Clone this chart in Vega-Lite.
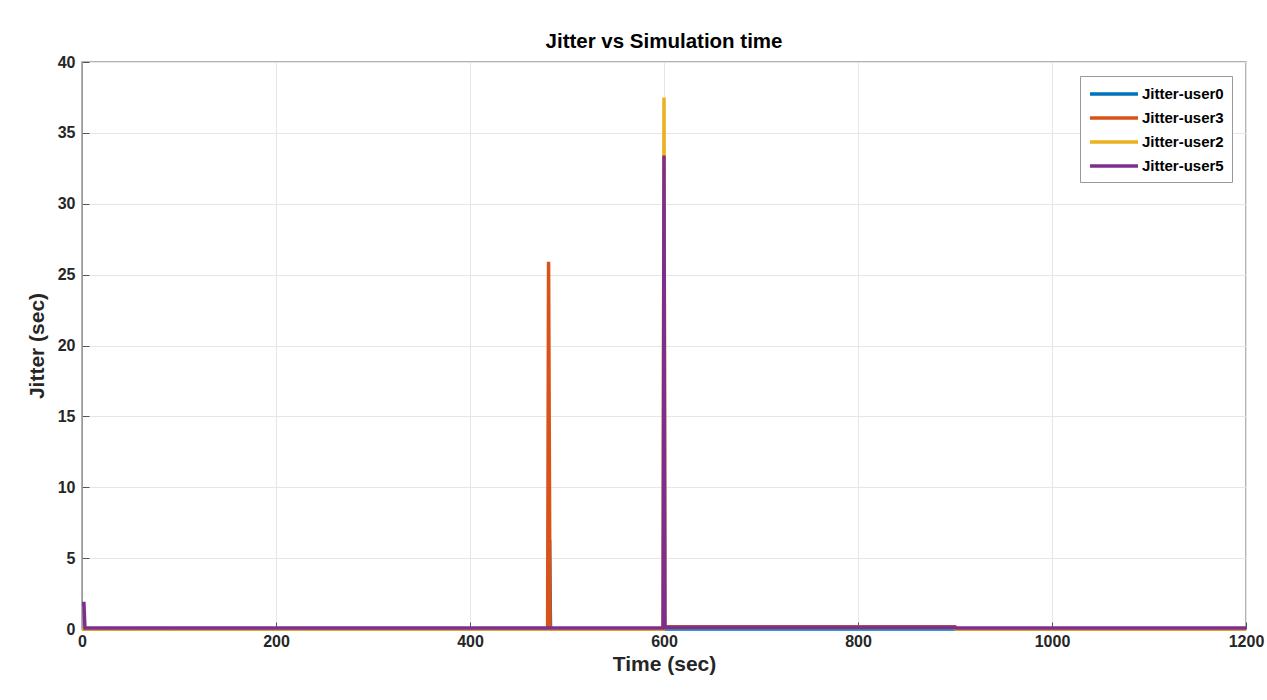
{
  "$schema": "https://vega.github.io/schema/vega-lite/v6.json",
  "autosize": {"type": "none"},
  "width": 1164,
  "height": 567,
  "padding": {"left": 82, "top": 62, "right": 21, "bottom": 71},
  "background": "white",
  "title": {
    "text": "Jitter vs Simulation time",
    "font": "Liberation Sans",
    "fontSize": 20.5,
    "fontWeight": "bold",
    "color": "#000000",
    "offset": 2,
    "anchor": "middle"
  },
  "data": {
    "values": [
      {"time": 0, "jitter": 0, "series": "Jitter-user0"},
      {"time": 481, "jitter": 0, "series": "Jitter-user0"},
      {"time": 482, "jitter": 6.3, "series": "Jitter-user0"},
      {"time": 483, "jitter": 0, "series": "Jitter-user0"},
      {"time": 1200, "jitter": 0, "series": "Jitter-user0"},
      {"time": 0, "jitter": 0, "series": "Jitter-user3"},
      {"time": 300, "jitter": 0.02, "series": "Jitter-user3"},
      {"time": 480, "jitter": 0.02, "series": "Jitter-user3"},
      {"time": 481, "jitter": 25.9, "series": "Jitter-user3"},
      {"time": 482.5, "jitter": 0, "series": "Jitter-user3"},
      {"time": 600, "jitter": 0, "series": "Jitter-user3"},
      {"time": 601, "jitter": 0.15, "series": "Jitter-user3"},
      {"time": 900, "jitter": 0.15, "series": "Jitter-user3"},
      {"time": 901, "jitter": 0, "series": "Jitter-user3"},
      {"time": 1200, "jitter": 0, "series": "Jitter-user3"},
      {"time": 0, "jitter": 0, "series": "Jitter-user2"},
      {"time": 599, "jitter": 0, "series": "Jitter-user2"},
      {"time": 600, "jitter": 37.5, "series": "Jitter-user2"},
      {"time": 601, "jitter": 0.1, "series": "Jitter-user2"},
      {"time": 900, "jitter": 0.1, "series": "Jitter-user2"},
      {"time": 901, "jitter": 0, "series": "Jitter-user2"},
      {"time": 1200, "jitter": 0, "series": "Jitter-user2"},
      {"time": 0, "jitter": 1.8, "series": "Jitter-user5"},
      {"time": 2, "jitter": 1.8, "series": "Jitter-user5"},
      {"time": 3, "jitter": 0.07, "series": "Jitter-user5"},
      {"time": 599, "jitter": 0.07, "series": "Jitter-user5"},
      {"time": 600, "jitter": 33.4, "series": "Jitter-user5"},
      {"time": 601, "jitter": 0.12, "series": "Jitter-user5"},
      {"time": 900, "jitter": 0.12, "series": "Jitter-user5"},
      {"time": 901, "jitter": 0.07, "series": "Jitter-user5"},
      {"time": 1200, "jitter": 0.07, "series": "Jitter-user5"}
    ]
  },
  "mark": {"type": "line", "strokeWidth": 3.5, "strokeJoin": "miter", "strokeCap": "butt"},
  "encoding": {
    "x": {
      "field": "time",
      "type": "quantitative",
      "scale": {"domain": [0, 1200], "nice": false, "zero": false},
      "axis": {
        "title": "Time (sec)",
        "values": [0, 200, 400, 600, 800, 1000, 1200],
        "format": "d",
        "labelFont": "Liberation Sans",
        "labelFontSize": 16,
        "labelFontWeight": "bold",
        "labelColor": "#262626",
        "labelPadding": 11,
        "titleFont": "Liberation Sans",
        "titleFontSize": 21,
        "titleFontWeight": "bold",
        "titleColor": "#262626",
        "titlePadding": 4,
        "grid": true,
        "gridColor": "#e6e6e6",
        "gridWidth": 1,
        "domainColor": "#999999",
        "tickColor": "#555555",
        "tickSize": -7,
        "labelFlush": false
      }
    },
    "y": {
      "field": "jitter",
      "type": "quantitative",
      "scale": {"domain": [0, 40], "nice": false},
      "axis": {
        "title": "Jitter (sec)",
        "values": [0, 5, 10, 15, 20, 25, 30, 35, 40],
        "labelFont": "Liberation Sans",
        "labelFontSize": 16,
        "labelFontWeight": "bold",
        "labelColor": "#262626",
        "labelPadding": 14,
        "titleFont": "Liberation Sans",
        "titleFontSize": 21,
        "titleFontWeight": "bold",
        "titleColor": "#262626",
        "titlePadding": 10,
        "grid": true,
        "gridColor": "#e6e6e6",
        "gridWidth": 1,
        "domainColor": "#999999",
        "tickColor": "#555555",
        "tickSize": -7,
        "labelFlush": false
      }
    },
    "color": {
      "field": "series",
      "type": "nominal",
      "scale": {
        "domain": ["Jitter-user0", "Jitter-user3", "Jitter-user2", "Jitter-user5"],
        "range": ["#0072BD", "#D95319", "#EDB120", "#7E2F8E"]
      },
      "legend": {
        "title": null,
        "orient": "top-right",
        "offset": 14,
        "symbolType": "M-1,0H5",
        "symbolStrokeWidth": 3.5,
        "symbolSize": 256,
        "symbolFillColor": "transparent",
        "labelFont": "Liberation Sans",
        "labelFontSize": 15,
        "labelFontWeight": "bold",
        "labelColor": "#000000",
        "labelOffset": 34,
        "rowPadding": 6,
        "strokeColor": "#999999",
        "fillColor": "white",
        "padding": 8
      }
    }
  },
  "config": {
    "view": {"stroke": "#999999", "strokeWidth": 1.5}
  }
}
